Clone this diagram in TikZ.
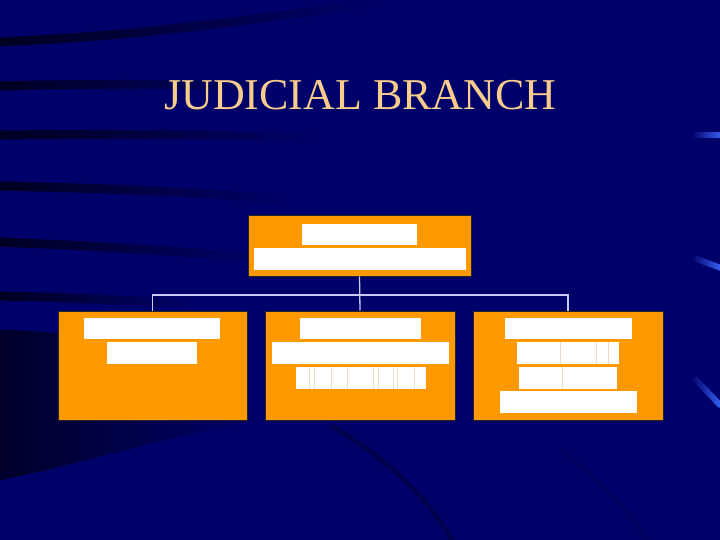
\documentclass[tikz,border=0pt]{standalone}
\usepackage{fontspec}
\setmainfont{Liberation Serif}
\usetikzlibrary{positioning,fadings}

\definecolor{slidenavy}{HTML}{00006A}
\definecolor{boxorange}{HTML}{FF9900}
\definecolor{titlepeach}{HTML}{F8CC8A}
\definecolor{linkgrey}{HTML}{C8C8F0}
\definecolor{streakblue}{HTML}{3D6BFF}
\definecolor{seamtan}{HTML}{EFDDC0}

\tikzfading[name=fadeout right, left color=transparent!0, right color=transparent!100]
\tikzfading[name=fadein right, left color=transparent!100, right color=transparent!0]

\begin{document}
\begin{tikzpicture}[
    x=1pt,y=-1pt,
    orgbox/.style={rectangle,fill=boxorange,draw=black!85,line width=1pt,inner sep=0pt},
    bar/.style={rectangle,fill=white,inner sep=0pt},
    seam/.style={draw=seamtan,line width=0.5pt},
    link/.style={draw=linkgrey,line width=1.3pt},
    swoosh/.style={draw=black,line width=9pt,opacity=0.7,path fading=fadeout right},
    streak/.style={draw=streakblue,line width=6pt,path fading=fadein right}
  ]
  % background
  \fill[slidenavy] (0,0) rectangle (720,540);
  \useasboundingbox (0,0) rectangle (720,540);
  \draw[swoosh] (-5,42) .. controls (150,36) and (260,18) .. (380,2);
  \draw[swoosh] (-5,86) .. controls (80,84) and (160,84) .. (260,86);
  \draw[swoosh] (-5,135) .. controls (100,134) and (200,134) .. (320,138);
  \draw[swoosh] (-5,186) .. controls (100,188) and (200,192) .. (290,200);
  \draw[swoosh] (-5,242) .. controls (80,245) and (160,250) .. (260,258);
  \draw[swoosh] (-5,296) .. controls (60,297) and (120,300) .. (190,304);
  \fill[black,opacity=0.6,path fading=fadeout right]
    (0,330) .. controls (100,330) and (200,360) .. (260,420)
    .. controls (150,440) and (60,470) .. (0,480) -- cycle;
  \draw[black,line width=5pt,opacity=0.25] (330,425) .. controls (390,460) and (430,500) .. (455,545);
  \draw[black,line width=3pt,opacity=0.12] (560,450) .. controls (600,480) and (630,510) .. (650,545);
  \draw[streak] (694,135) -- (721,135);
  \draw[streak] (694,258) -- (721,268);
  \draw[streak] (694,378) -- (721,406);

  % title
  \node[text=titlepeach,font=\fontsize{44}{50}\selectfont,anchor=base,inner sep=0pt] (title) at (360.5,110) {JUDICIAL BRANCH};

  % boxes
  \node[orgbox,minimum width=223pt,minimum height=60pt] (court) at (359.5,246) {};
  \node[orgbox,minimum width=189pt,minimum height=109pt] (lower) at (152.5,365.5) {};
  \node[orgbox,minimum width=190pt,minimum height=109pt] (middle) at (360,365.5) {};
  \node[orgbox,minimum width=190pt,minimum height=109pt] (right) at (568,365.5) {};

  % blank labels
  \node[bar,minimum width=115pt,minimum height=21pt] (courtA) at (359.5,234.5) {};
  \node[bar,minimum width=212pt,minimum height=22pt] (courtB) at (360,259) {};
  \node[bar,minimum width=136pt,minimum height=21pt] (lowerA) at (152,328.5) {};
  \node[bar,minimum width=90pt,minimum height=22pt] (lowerB) at (152,353) {};
  \node[bar,minimum width=121pt,minimum height=21pt] (middleA) at (360.5,328.5) {};
  \node[bar,minimum width=177pt,minimum height=22pt] (middleB) at (360.5,353) {};
  \node[bar,minimum width=130pt,minimum height=22pt] (middleC) at (361,378) {};
  \node[bar,minimum width=127pt,minimum height=21pt] (rightA) at (568.5,328.5) {};
  \node[bar,minimum width=102pt,minimum height=22pt] (rightB) at (568,353) {};
  \node[bar,minimum width=98pt,minimum height=22pt] (rightC) at (568,378) {};
  \node[bar,minimum width=137pt,minimum height=22pt] (rightD) at (568.5,402) {};
  \foreach \sx in {309,314,331,347,373,378,393,397,414}
    \draw[seam] (middleC.north -| \sx,0) -- (middleC.south -| \sx,0);
  \foreach \sx in {560,596,608}
    \draw[seam] (rightB.north -| \sx,0) -- (rightB.south -| \sx,0);
  \draw[seam] (rightC.north -| 562,0) -- (rightC.south -| 562,0);

  % connectors
  \coordinate (rail) at (360,295);
  \draw[link] (court.south) -- (middle.north);
  \draw[link] (lower.north) |- (rail) -| (right.north);
\end{tikzpicture}
\end{document}
